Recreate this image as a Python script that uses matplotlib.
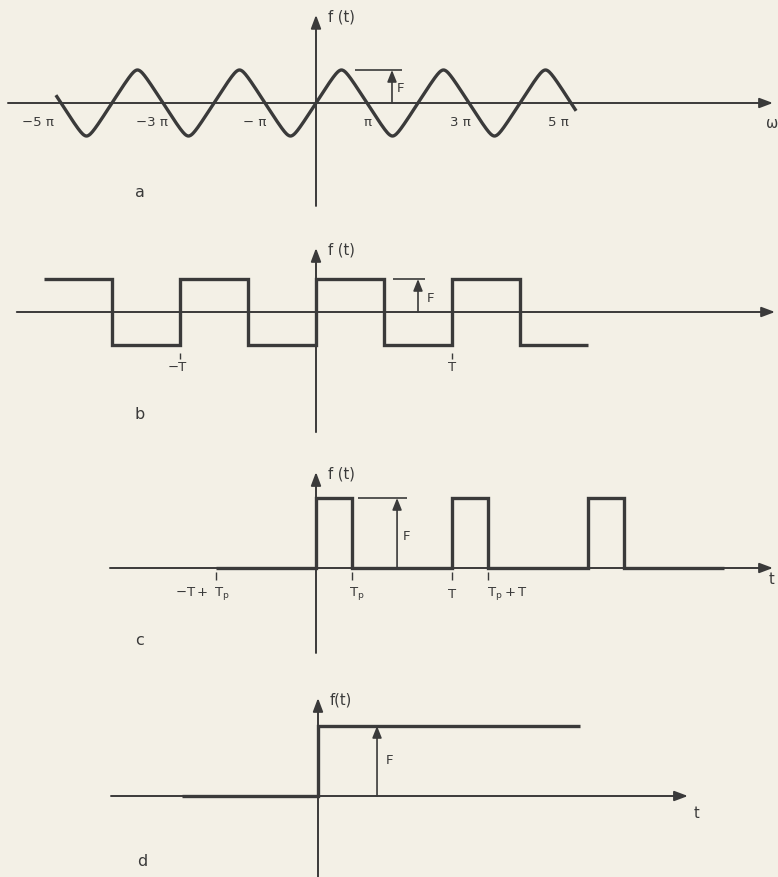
import numpy as np
import matplotlib.pyplot as plt

W, H = 778, 877
DPI = 100
BG = '#f3f0e6'
INK = '#3a3a3a'
plt.rcParams['font.family'] = ['DejaVu Sans']
plt.rcParams['mathtext.fontset'] = 'dejavusans'

# ---- (a) sinusoid, abscissa in units of pi ----
a_span = (-5.1, 5.1)
a_amp = 1.0
a_ticks = [-5, -3, -1, 1, 3, 5]
a_tick_labels = ['−5 π', '−3 π', '− π', 'π', '3 π', '5 π']
a_label_dx = [-23, -11, -10, 0, -9, -13]
a_F_at = 1.49
a_F_ref = (0.765, 1.69)

# ---- (b) square wave, period T = 1 ----
b_edges = [-2.0, -1.5, -1.0, -0.5, 0.0, 0.5, 1.0, 1.5, 2.0]
b_levels = [1, -1, 1, -1, 1, -1, 1, -1]
b_ticks = [-1.0, 1.0]
b_tick_labels = ['−T', 'T']
b_F_at = 0.75
b_F_ref = (0.566, 0.80)

# ---- (c) pulse train, period T, pulse width Tp ----
T = 1.0
Tp = 0.265
c_edges = [-T + Tp, 0.0, Tp, T, T + Tp, 2 * T, 2 * T + Tp, 3 * T]
c_levels = [0, 1, 0, 1, 0, 1, 0]
c_ticks = [-T + Tp, Tp, T, Tp + T]
c_tick_labels = [r'$\mathregular{-T+\ T_p}$', r'$\mathregular{T_p}$',
                 r'$\mathregular{T}$', r'$\mathregular{T_p + T}$']
c_label_dx = [-13, 5, 0, 19]
c_F_at = 0.596
c_F_ref = (0.309, 0.669)

# ---- (d) step ----
d_edges = [-1.0, 0.0, 1.93]
d_levels = [0, 1]
d_F_at = 0.434

fig = plt.figure(figsize=(W / DPI, H / DPI), dpi=DPI)
fig.patch.set_facecolor(BG)

AX_LW = 1.4
SIG_LW = 2.4
TXT = 9.5


def panel(top, bottom, x0, y0, sx, sy):
    ax = fig.add_axes([0, 1 - bottom / H, 1, (bottom - top) / H])
    ax.set_xlim(-x0 / sx, (W - x0) / sx)
    ax.set_ylim((y0 - bottom) / sy, (y0 - top) / sy)
    ax.axis('off')
    ax.patch.set_alpha(0)
    return ax


def arrow(ax, x1, y1, x2, y2, lw=AX_LW, hl=0.8, hw=0.3):
    ax.annotate('', xy=(x2, y2), xytext=(x1, y1),
                arrowprops=dict(arrowstyle=f'-|>,head_length={hl},head_width={hw}',
                                lw=lw, color=INK, shrinkA=0, shrinkB=0))


def line(ax, xs, ys, lw=AX_LW):
    ax.plot(xs, ys, color=INK, lw=lw, solid_capstyle='butt')


def label(ax, x, y, s, dx, dy, size=TXT, ha='center', va='center'):
    ax.annotate(s, xy=(x, y), xytext=(dx, dy), textcoords='offset pixels',
                ha=ha, va=va, fontsize=size, color=INK)


def axes_cross(ax, xl, xr, yb, yt, xlabel, xlab_off, flabel):
    arrow(ax, xl, 0, xr, 0)
    arrow(ax, 0, yb, 0, yt)
    label(ax, 0, yt, flabel, 12, -2, size=10.5, ha='left')
    if xlabel:
        label(ax, xr, 0, xlabel, xlab_off[0], xlab_off[1], size=10.5, ha='left')


def F_marker(ax, x, level, ref=None, dx=10, dy=14):
    arrow(ax, x, 0, x, level, lw=1.2, hl=0.7, hw=0.28)
    if ref is not None:
        line(ax, ref, [level, level], lw=1.2)
    label(ax, x, 0, 'F', dx, dy, ha='left')


# (a)
ax = panel(0, 215, 316, 103, 51, 33)
axes_cross(ax, -6.04, 8.96, -3.12, 2.67, 'ω', (-7, -20), 'f (t)')
w = np.linspace(a_span[0], a_span[1], 800)
k = 0.95
wave = a_amp * np.arcsin(k * np.sin(np.pi * w)) / np.arcsin(k)
ax.plot(w, wave, color=INK, lw=SIG_LW, solid_capstyle='butt')
for v, s, dx in zip(a_ticks, a_tick_labels, a_label_dx):
    label(ax, v, 0, s, dx, -20)
F_marker(ax, a_F_at, a_amp, a_F_ref, dx=5, dy=14)
label(ax, -3.45, -2.7, 'a', 0, 0, size=11.5)

# (b)
ax = panel(215, 440, 316, 312, 136, 33)
axes_cross(ax, -2.2, 3.375, -3.64, 1.94, None, None, 'f (t)')
ax.stairs(b_levels, b_edges, baseline=None, color=INK, lw=SIG_LW)
for v, s in zip(b_ticks, b_tick_labels):
    line(ax, [v, v], [-1.24, -1.42], lw=1.0)
    label(ax, v, -1, s, -3 if v < 0 else 0, -22)
F_marker(ax, b_F_at, 1, b_F_ref, dx=9, dy=14)
label(ax, -1.3, -3.12, 'b', 0, 0, size=11.5)

# (c)
ax = panel(440, 665, 316, 568, 136, 70)
axes_cross(ax, -1.515, 3.36, -1.214, 1.371, 't', (-4, -12), 'f (t)')
ax.stairs(c_levels, c_edges, baseline=None, color=INK, lw=SIG_LW)
for v, s, dx in zip(c_ticks, c_tick_labels, c_label_dx):
    line(ax, [v, v], [-0.06, -0.17], lw=1.0)
    label(ax, v, 0, s, dx, -26)
F_marker(ax, c_F_at, 1, c_F_ref, dx=6, dy=31)
label(ax, -1.3, -1.03, 'c', 0, 0, size=11.5)

# (d)
ax = panel(665, 877, 318, 796, 136, 70)
axes_cross(ax, -1.522, 2.72, -1.25, 1.4, 't', (6, -17), 'f(t)')
ax.stairs(d_levels, d_edges, baseline=None, color=INK, lw=SIG_LW)
F_marker(ax, d_F_at, 1, None, dx=9, dy=36)
label(ax, -1.29, -0.93, 'd', 0, 0, size=11.5)

fig.savefig('out.png', dpi=DPI, facecolor=BG)
